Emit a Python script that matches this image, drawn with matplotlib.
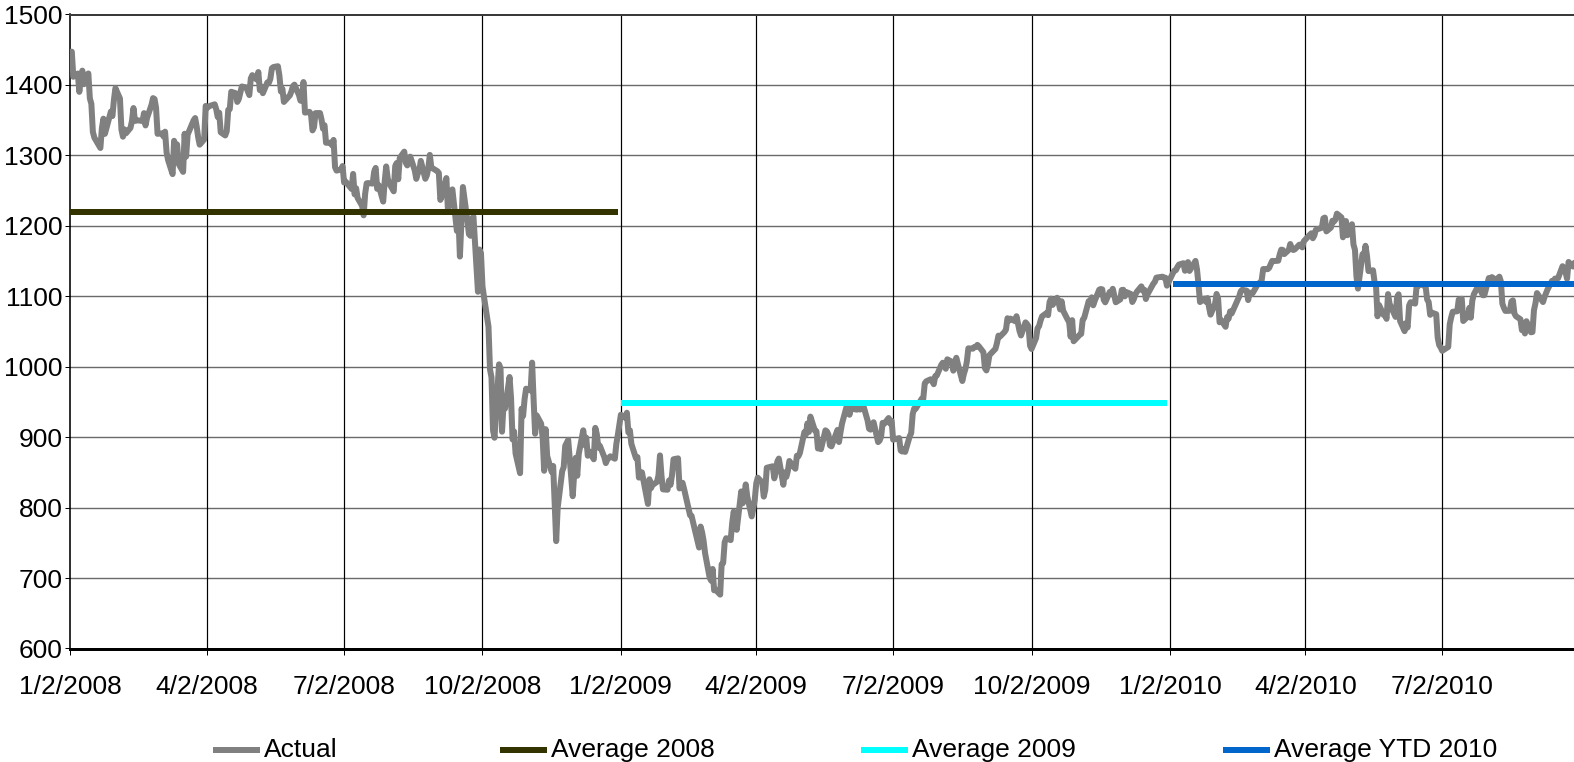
import numpy as np
import pandas as pd
import matplotlib
matplotlib.use('Agg')
import matplotlib.pyplot as plt
from matplotlib.lines import Line2D
from matplotlib import font_manager

# ---------------- data (daily closes) ----------------
sp2008 = [
    1447.2, 1447.2, 1411.6, 1416.2, 1390.2, 1409.1, 1420.3, 1401.0, 1416.3, 1380.9, 1373.2, 1333.3, 1325.2, 1310.5, 1338.6, 1352.1, 1330.6, 1353.96, 1362.3, 1355.8, 1378.6,
    1395.4, 1380.8, 1336.6, 1326.5, 1336.9, 1331.3, 1339.1, 1348.9, 1367.2, 1348.9, 1349.99, 1348.8, 1360.0, 1342.5, 1353.1, 1371.8, 1381.3, 1380.0, 1367.7, 1330.6,
    1331.3, 1326.8, 1333.7, 1304.3, 1293.4, 1273.4, 1320.7, 1308.8, 1315.5, 1288.1, 1276.6, 1330.7, 1298.4, 1329.5, 1349.9, 1352.99, 1341.1, 1325.8, 1315.2, 1322.7,
    1370.2, 1367.5, 1369.3, 1370.4, 1372.5, 1365.5, 1354.5, 1360.6, 1332.8, 1328.3, 1334.4, 1364.7, 1365.6, 1390.3, 1388.2, 1375.9, 1379.9, 1388.8, 1397.8, 1396.4, 1390.9, 1385.6,
    1409.3, 1413.9, 1407.5, 1418.3, 1392.6, 1397.7, 1388.3, 1403.6, 1403.0, 1408.7, 1423.6, 1425.4, 1426.6, 1413.4, 1390.7, 1394.4, 1375.9, 1385.4, 1390.8, 1398.3, 1400.4,
    1385.7, 1377.7, 1377.2, 1404.1, 1360.7, 1361.8, 1358.4, 1335.5, 1339.9, 1360.0, 1360.1, 1350.9, 1337.8, 1342.8, 1317.9, 1318.0, 1314.3, 1321.97, 1283.2, 1278.4, 1280.0,
    1284.9, 1261.5, 1262.9, 1252.3, 1273.7, 1244.7, 1253.4, 1239.5, 1228.3, 1214.9, 1245.4, 1260.3, 1260.7, 1260.0, 1277.0, 1282.2, 1252.5, 1257.8, 1234.4, 1263.2, 1284.3, 1267.4,
    1260.3, 1249.0, 1284.9, 1289.2, 1266.1, 1296.3, 1305.3, 1289.6, 1285.8, 1292.9, 1298.2, 1278.6, 1266.7, 1274.5, 1277.7, 1292.2, 1266.8, 1271.5, 1281.7, 1300.7, 1282.8,
    1277.6, 1274.98, 1236.8, 1242.3, 1267.8, 1224.5, 1232.0, 1249.1, 1251.7, 1192.7, 1213.6, 1156.4, 1206.5, 1255.1, 1207.1, 1188.2, 1185.9, 1209.2, 1213.3, 1106.4, 1166.4,
    1161.1, 1114.3, 1099.2, 1056.9, 996.2, 984.9, 909.9, 899.2, 1003.4, 998.0, 907.8, 946.4, 940.6, 985.4, 955.1, 896.8, 908.1, 876.8, 848.9, 940.5, 930.1, 954.1, 968.8,
    966.3, 1005.8, 952.8, 904.9, 930.99, 919.2, 898.95, 852.3, 911.3, 873.3, 850.8, 859.1, 806.6, 752.4, 800.0, 851.8, 857.4, 887.7, 896.2,
    816.2, 848.8, 870.7, 845.2, 876.1, 909.7, 888.7, 899.2, 873.6, 879.7, 868.6, 913.2, 904.4, 885.3, 887.9, 871.6, 863.2, 868.2, 872.8, 869.4, 890.6, 903.25,
]
sp2009 = [
    931.8, 927.5, 934.7, 906.7, 909.7, 890.4, 870.3, 871.8, 842.6, 843.7, 850.1, 805.2, 840.2, 827.5, 831.95, 836.6, 845.7, 874.1, 845.1, 825.9,
    825.4, 838.5, 832.2, 845.9, 868.6, 869.9, 827.2, 833.7, 835.2, 826.8, 789.2, 788.4, 778.9, 770.05, 743.3, 773.1, 764.9, 752.8, 735.1,
    700.8, 696.3, 712.9, 682.6, 683.4, 676.5, 719.6, 721.4, 750.7, 756.6, 753.9, 778.1, 794.4, 784.0, 768.5, 822.9, 806.1, 813.9, 832.9, 815.9, 787.5, 797.9,
    811.1, 834.4, 842.5, 835.5, 815.6, 825.2, 856.6, 858.7, 841.5, 852.1, 865.3, 869.6, 832.4, 850.1, 843.6, 851.9, 866.2, 857.5, 855.2, 873.6, 872.8,
    877.5, 907.2, 903.8, 919.5, 907.4, 929.2, 909.2, 908.4, 883.9, 893.1, 882.9, 909.7, 908.1, 903.5, 888.3, 887.0, 910.3, 893.1, 906.8, 919.1,
    942.9, 944.7, 931.8, 942.5, 940.1, 939.1, 942.4, 939.2, 944.9, 946.2, 923.7, 911.97, 910.7, 918.4, 921.2, 893.0, 895.1, 900.9, 920.3, 918.9, 927.2, 919.3,
    923.3, 896.4, 898.7, 881.0, 879.6, 882.7, 879.1, 901.05, 905.8, 932.7, 940.7, 940.4, 951.1, 954.6, 954.1, 976.3, 979.3, 982.2, 979.6, 975.2, 986.8, 987.5,
    1002.6, 1005.7, 1002.7, 997.1, 1010.5, 1007.1, 994.4, 1005.8, 1012.7, 1004.1, 979.7, 989.7, 996.5, 1007.4, 1026.1, 1025.6, 1028.0, 1028.1, 1030.98, 1028.9, 1020.6,
    998.0, 994.75, 1003.2, 1016.4, 1025.4, 1033.4, 1044.1, 1042.7, 1049.3, 1052.6, 1068.8, 1065.5, 1068.3, 1064.7, 1071.7, 1060.9, 1050.8, 1044.4, 1062.98, 1060.6, 1057.1,
    1029.9, 1025.2, 1040.5, 1054.7, 1057.6, 1065.5, 1071.5, 1076.2, 1073.2, 1092.0, 1096.6, 1087.7, 1097.9, 1091.1, 1081.4, 1092.9, 1079.6, 1066.95, 1063.4, 1042.6, 1066.1, 1036.2,
    1042.9, 1045.4, 1046.5, 1066.6, 1069.3, 1093.1, 1093.0, 1098.5, 1087.2, 1093.5, 1109.3, 1110.3, 1109.8, 1094.9, 1091.4, 1106.2, 1105.65, 1110.6, 1091.5, 1095.6,
    1108.9, 1109.2, 1099.9, 1105.98, 1103.3, 1091.9, 1095.95, 1102.4, 1106.4, 1114.1, 1107.9, 1109.2, 1096.1, 1102.5, 1114.05, 1118.0, 1120.6, 1126.5, 1127.8, 1126.2, 1126.4, 1115.1,
]
sp2010 = [
    1132.99, 1136.5, 1137.1, 1141.7, 1144.98, 1146.98, 1136.2, 1145.7, 1148.5, 1136.0, 1150.2, 1138.0, 1116.5, 1091.8, 1096.8, 1092.2, 1097.5, 1084.5, 1073.9,
    1089.2, 1103.3, 1097.3, 1063.1, 1066.2, 1056.7, 1070.5, 1068.1, 1078.5, 1075.5, 1094.9, 1099.5, 1106.75, 1109.2, 1108.0, 1094.6, 1105.2, 1102.9, 1104.5,
    1115.7, 1118.3, 1118.8, 1122.97, 1138.7, 1138.5, 1140.45, 1145.6, 1150.2, 1149.99, 1150.5, 1159.5, 1166.2, 1165.8, 1159.9, 1165.8, 1174.2, 1167.7, 1165.7, 1166.6, 1173.2, 1173.3, 1169.4,
    1178.1, 1187.4, 1189.4, 1182.4, 1186.4, 1194.4, 1196.5, 1197.3, 1210.65, 1211.7, 1192.1, 1197.5, 1207.2, 1205.9, 1208.7, 1217.3, 1212.05, 1183.7, 1191.4, 1206.8, 1186.7,
    1202.3, 1173.6, 1165.9, 1128.2, 1110.9, 1159.7, 1155.8, 1171.7, 1157.4, 1135.7, 1136.9, 1120.8, 1115.05, 1071.6, 1087.7, 1073.65, 1074.0, 1067.95, 1103.1, 1089.4,
    1070.7, 1098.4, 1102.8, 1064.9, 1050.5, 1062.0, 1055.7, 1086.8, 1091.6, 1089.6, 1115.2, 1114.6, 1116.0, 1117.5, 1113.2, 1095.3, 1092.0, 1073.7, 1076.8, 1074.6, 1041.2, 1030.7,
    1027.4, 1022.6, 1028.1, 1060.3, 1070.25, 1077.96, 1078.75, 1095.3, 1095.2, 1096.5, 1064.9, 1071.25, 1083.5, 1069.6, 1093.7, 1102.7, 1115.0, 1113.8, 1106.1, 1101.5, 1101.6,
    1125.9, 1120.5, 1127.2, 1125.8, 1121.6, 1127.8, 1121.1, 1089.5, 1083.6, 1079.25, 1079.4, 1092.5, 1094.2, 1075.6, 1071.7, 1067.4, 1051.9, 1055.3, 1047.2, 1064.6, 1048.9, 1049.3,
    1080.3, 1090.1, 1104.5, 1091.8, 1098.9, 1104.2, 1109.55, 1121.9, 1121.1, 1125.1, 1124.7, 1125.6, 1142.7, 1139.8, 1134.3, 1124.8, 1148.7, 1142.2, 1147.7, 1144.7, 1141.2,
]
year_ranges = [('2008-01-02', '2008-12-31'), ('2009-01-02', '2009-12-31'), ('2010-01-04', '2010-09-30')]
market_holidays = [
    '2008-01-21', '2008-02-18', '2008-03-21', '2008-05-26', '2008-07-04', '2008-09-01', '2008-11-27', '2008-12-25',
    '2009-01-01', '2009-01-19', '2009-02-16', '2009-04-10', '2009-05-25', '2009-07-03', '2009-09-07', '2009-11-26', '2009-12-25',
    '2010-01-01', '2010-01-18', '2010-02-15', '2010-04-02', '2010-05-31', '2010-07-05', '2010-09-06',
]
avg_values = [1220, 948, 1117]
series_labels = ['Actual', 'Average 2008', 'Average 2009', 'Average YTD 2010']
series_colors = ['#808080', '#333300', '#00ffff', '#0066cc']
tick_dates = ['2008-01-02', '2008-04-02', '2008-07-02', '2008-10-02', '2009-01-02', '2009-04-02',
              '2009-07-02', '2009-10-02', '2010-01-02', '2010-04-02', '2010-07-02']
tick_labels = ['1/2/2008', '4/2/2008', '7/2/2008', '10/2/2008', '1/2/2009', '4/2/2009',
               '7/2/2009', '10/2/2009', '1/2/2010', '4/2/2010', '7/2/2010']
y_ticks = [600, 700, 800, 900, 1000, 1100, 1200, 1300, 1400, 1500]
x_range = ('2008-01-02', '2010-10-02')

# ---------------- font ----------------
avail = {f.name for f in font_manager.fontManager.ttflist}
fam = 'Liberation Sans' if 'Liberation Sans' in avail else 'DejaVu Sans'
plt.rcParams['font.family'] = [fam, 'DejaVu Sans']
FS = 19

PX = 0.72  # points per pixel at 100 dpi

fig = plt.figure(figsize=(15.74, 7.62), dpi=100)
W, H = 1574, 762
x0, x1 = 70.3, 1580.6
y_top, y_bot = 14.5, 648.5
ax = fig.add_axes([x0 / W, 1 - y_bot / H, (x1 - x0) / W, (y_bot - y_top) / H])

bd = pd.offsets.CustomBusinessDay(holidays=market_holidays)
year_dates = []
for (s, e), vals in zip(year_ranges, [sp2008, sp2009, sp2010]):
    d = pd.date_range(s, e, freq=bd)
    if len(d) != len(vals):
        d = pd.date_range(s, e, periods=len(vals))
    year_dates.append(d)

all_dates = np.concatenate([d.values for d in year_dates])
all_vals = np.concatenate([sp2008, sp2009, sp2010])

lw = 6 * PX
ax.plot(all_dates, all_vals, color=series_colors[0], lw=lw, solid_joinstyle='round', zorder=3)
for d, v, c in zip(year_dates, avg_values, series_colors[1:]):
    ax.plot([d[0], d[-1]], [v, v], color=c, lw=lw, solid_capstyle='butt', zorder=4)

ax.set_xlim(pd.Timestamp(x_range[0]), pd.Timestamp(x_range[1]))
ax.set_ylim(600, 1500)
ax.set_yticks(y_ticks)
ax.set_yticklabels([str(v) for v in y_ticks], fontsize=FS)
ax.set_xticks([pd.Timestamp(t) for t in tick_dates])
ax.set_xticklabels(tick_labels, fontsize=FS)

for v in y_ticks[1:-1]:
    ax.axhline(v, color='#6a6a6a', lw=1.4 * PX, zorder=1)
for t in tick_dates[1:]:
    ax.axvline(pd.Timestamp(t), color='black', lw=1.2 * PX, zorder=1)

ax.spines['right'].set_visible(False)
ax.spines['top'].set_color('#3a3a3a')
ax.spines['top'].set_linewidth(2 * PX)
ax.spines['left'].set_color('black')
ax.spines['left'].set_linewidth(1.6 * PX)
ax.spines['bottom'].set_color('black')
ax.spines['bottom'].set_linewidth(3 * PX)
ax.spines['bottom'].set_zorder(5)

ax.tick_params(axis='x', direction='out', length=6 * PX, width=1 * PX, pad=14.5, colors='black')
ax.tick_params(axis='y', direction='out', length=5 * PX, width=1 * PX, pad=2, colors='black')

# ---------------- legend ----------------
handle_x = [212.8, 499.9, 861.3, 1222.6]
leg_y = 750
hl = 47
for hx, lab, c in zip(handle_x, series_labels, series_colors):
    fig.add_artist(Line2D([hx / W, (hx + hl) / W], [1 - leg_y / H, 1 - leg_y / H],
                          color=c, lw=lw, solid_capstyle='butt', transform=fig.transFigure))
    fig.text((hx + hl + 4) / W, 1 - leg_y / H, lab, fontsize=FS, ha='left', va='center')

fig.savefig('out.png', dpi=100)
